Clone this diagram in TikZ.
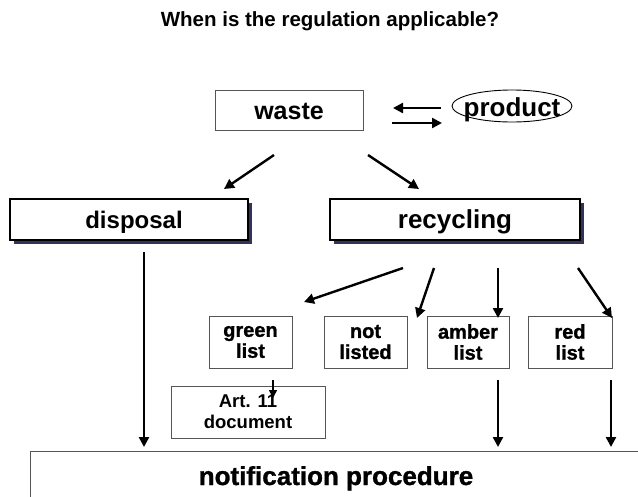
\documentclass[tikz,border=0pt]{standalone}
\usepackage{fontspec}
\setmainfont{Liberation Sans}
\newfontfamily\heavyfont{Liberation Sans}[UprightFeatures={FakeBold=1.2}, BoldFeatures={FakeBold=1.2}]
\usetikzlibrary{arrows.meta,shadows}
\definecolor{shadowblue}{HTML}{33335A}
\definecolor{boxgray}{HTML}{555555}
\begin{document}
\begin{tikzpicture}[x=1pt,y=-1pt,
  arr/.style={line width=2.4pt,-{Triangle[length=10pt,width=10pt]}},
  titletext/.style={font=\bfseries\fontsize{20.5}{24}\selectfont},
  bigtext/.style={font=\bfseries\fontsize{25}{28}\selectfont},
  smalltext/.style={font=\heavyfont\bfseries\fontsize{20}{21}\selectfont, align=center},
  plainbox/.style={draw=boxgray, line width=1pt, fill=white, inner sep=0pt, bigtext},
  shadowbox/.style={draw=black, line width=1.2pt, fill=white, inner sep=0pt,
    minimum height=41, drop shadow={shadow xshift=4pt,shadow yshift=-3.5pt,fill=shadowblue,opacity=1}},
  listbox/.style={draw=boxgray, line width=1pt, inner sep=0pt, minimum height=52, smalltext}
]
\useasboundingbox (0,0) rectangle (638,496);

\node[titletext, anchor=base] (title) at (330,26) {When is the regulation applicable?};

\node[plainbox, minimum width=148, minimum height=40] (waste) at (289,110) {};
\node[bigtext, anchor=base] (wastetext) at (289,119) {waste};
\node[font=\bfseries\fontsize{26}{28}\selectfont, anchor=base] (product) at (512,116) {product};
\draw[line width=0.9pt] (512,106) ellipse [x radius=60, y radius=16];

\node[shadowbox, minimum width=238] (disposal) at (129,219.5) {};
\node[font=\bfseries\fontsize{24}{26}\selectfont, anchor=base] (disposaltext) at (134,228) {disposal};
\node[shadowbox, minimum width=250] (recycling) at (455,219.5) {};
\node[font=\bfseries\fontsize{26}{28}\selectfont, anchor=base] (recyclingtext) at (455,228) {recycling};

\node[listbox, minimum width=83] (green) at (250.5,342) {green\\list};
\node[listbox, minimum width=83] (notlisted) at (365.5,342) {not\\listed};
\node[listbox, minimum width=82] (amber) at (468,342) {amber\\list};
\node[listbox, minimum width=84] (red) at (570,342) {red\\list};
\node[listbox, minimum width=154, font=\bfseries\fontsize{18.5}{21}\selectfont] (art) at (248,412) {Art. 11\\document};

\node[draw=boxgray, line width=1.2pt, minimum width=620, minimum height=60, anchor=north west, inner sep=0pt] (notif) at (30,451) {};
\node[font=\heavyfont\bfseries\fontsize{26}{28}\selectfont, anchor=base] (notiftext) at (336,485) {notification procedure};

% arrow end points
\coordinate (pa) at (441,108); \coordinate (pb) at (393,108);
\coordinate (wa) at (392,123); \coordinate (wb) at (442,123);
\coordinate (wd1) at (274,155); \coordinate (wd2) at (224,189);
\coordinate (wr1) at (368,155); \coordinate (wr2) at (419,189);
\coordinate (rg1) at (403,268); \coordinate (rg2) at (304,302);
\coordinate (rn1) at (434,268); \coordinate (rn2) at (417,318);
\coordinate (ra1) at (498,268); \coordinate (ra2) at (498,318);
\coordinate (rr1) at (578,268); \coordinate (rr2) at (612,318);
\coordinate (ga1) at (273,380); \coordinate (ga2) at (273,398);
\coordinate (dn1) at (144,252); \coordinate (dn2) at (144,447);
\coordinate (an1) at (498,380); \coordinate (an2) at (498,447);
\coordinate (en1) at (611,380); \coordinate (en2) at (611,447);

\draw[arr] (pa) -- (pb);
\draw[arr] (wa) -- (wb);
\draw[arr] (wd1) -- (wd2);
\draw[arr] (wr1) -- (wr2);
\draw[arr] (rg1) -- (rg2);
\draw[arr] (rn1) -- (rn2);
\draw[arr] (ra1) -- (ra2);
\draw[arr] (rr1) -- (rr2);
\draw[line width=1.6pt,-{Triangle[length=8pt,width=8pt]}] (ga1) -- (ga2);
\draw[arr] (dn1) -- (dn2);
\draw[arr] (an1) -- (an2);
\draw[arr] (en1) -- (en2);
\end{tikzpicture}
\end{document}
